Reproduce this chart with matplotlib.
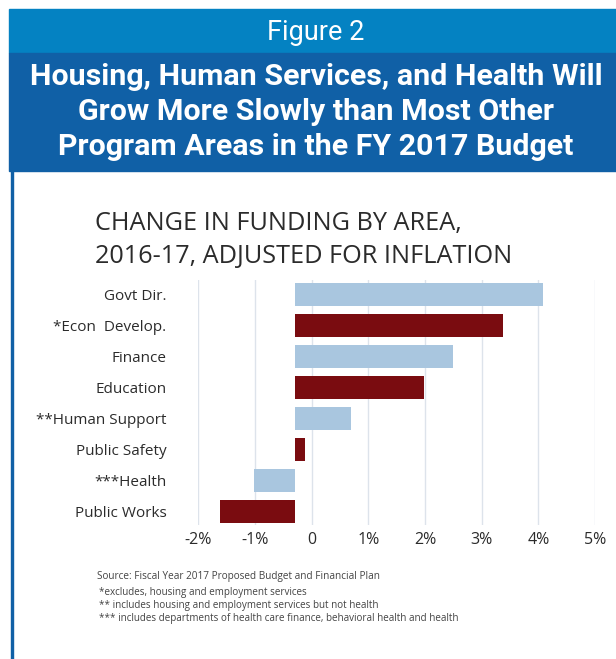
import matplotlib
matplotlib.use("Agg")
import matplotlib.pyplot as plt
from matplotlib.patches import Rectangle

# data (bars are drawn from a -0.3% baseline as in the original)
areas = ["Govt Dir.", "*Econ  Develop.", "Finance", "Education",
         "**Human Support", "Public Safety", "***Health", "Public Works"]
bar_end = [4.09, 3.38, 2.49, 1.99, 0.69, -0.12, -1.02, -1.62]
bar_base = -0.3
tick_vals = [-2, -1, 0, 1, 2, 3, 4, 5]
tick_labels = ["-2%", "-1%", "0", "1%", "2%", "3%", "4%", "5%"]
title_lines = ["Housing, Human Services, and Health Will",
               "Grow More Slowly than Most Other",
               "Program Areas in the FY 2017 Budget"]
footnotes = ["*excludes, housing and employment services",
             "** includes housing and employment services but not health",
             "*** includes departments of health care finance, behavioral health and health"]

W, H = 616, 659
fig = plt.figure(figsize=(W / 100, H / 100), dpi=100)
fig.patch.set_facecolor("white")


def fx(x):
    return x / W


def fy(y):
    return 1 - y / H


# header bands
fig.patches.append(Rectangle((fx(9), fy(53)), fx(W - 9), (53 - 9) / H,
                             transform=fig.transFigure, color="#0482c2", zorder=0))
fig.patches.append(Rectangle((fx(9), fy(171)), fx(W - 9), (171 - 53) / H,
                             transform=fig.transFigure, color="#1060a6", zorder=0))
# left border line
fig.patches.append(Rectangle((fx(10.5), 0), fx(2.3), fy(171),
                             transform=fig.transFigure, color="#1060a6", zorder=0))

hfont = ["Roboto", "DejaVu Sans"]
fig_lab = fig.text(fx(316), fy(32.5), "Figure 2", color="white", fontsize=17,
                   family=hfont, ha="center", va="center")
tlines = []
for i, line in enumerate(title_lines):
    tlines.append(fig.text(fx(316), fy(77 + 35 * i), line, color="white", fontsize=20,
                           fontweight="bold", family=hfont, ha="center", va="center"))

# fit the header texts to the widths seen in the reference
fig.canvas.draw()
rend = fig.canvas.get_renderer()
k = 572 / tlines[0].get_window_extent(rend).width
for t in tlines:
    t.set_fontsize(20 * k)
fig_lab.set_fontsize(17 * 98 / fig_lab.get_window_extent(rend).width)

cfont = ["Open Sans", "DejaVu Sans"]
fig.text(fx(95), fy(223), "CHANGE IN FUNDING BY AREA,", color="#2b2b2b",
         fontsize=18.2, family=cfont, ha="left", va="center")
fig.text(fx(95), fy(256), "2016-17, ADJUSTED FOR INFLATION", color="#2b2b2b",
         fontsize=18.2, family=cfont, ha="left", va="center")

# chart axes
ax = fig.add_axes([fx(198.3), fy(525), (595 - 198.3) / W, (525 - 280) / H])
ypos = list(range(len(areas)))
colors = ["#a9c6df" if i % 2 == 0 else "#7a0c10" for i in ypos]
widths = [e - bar_base for e in bar_end]
ax.barh(ypos, widths, left=bar_base, height=0.72, color=colors, zorder=2)
ax.set_xlim(-2, 5)
ax.set_ylim(len(areas) - 0.56, -0.47)
ax.set_xticks(tick_vals)
ax.set_xticklabels(tick_labels)
ax.set_yticks(ypos)
ax.set_yticklabels(areas)
ax.grid(axis="x", color="#dde3eb", linewidth=1, zorder=0)
for s in ax.spines.values():
    s.set_visible(False)
ax.tick_params(axis="x", length=0, pad=5, labelsize=11.5, labelcolor="#2b2b2b")
ax.tick_params(axis="y", length=0, pad=23, labelsize=11, labelcolor="#2b2b2b")
for lab in ax.get_xticklabels() + ax.get_yticklabels():
    lab.set_family(cfont)

# source and footnotes
fig.text(fx(97), fy(577), "Source: Fiscal Year 2017 Proposed Budget and Financial Plan",
         color="#444444", fontsize=7.2, family=cfont, ha="left", va="center")
for i, note in enumerate(footnotes):
    fig.text(fx(99), fy(593 + 12.5 * i), note, color="#444444", fontsize=7.1,
             family=cfont, ha="left", va="center")

fig.savefig("out.png", dpi=100)
